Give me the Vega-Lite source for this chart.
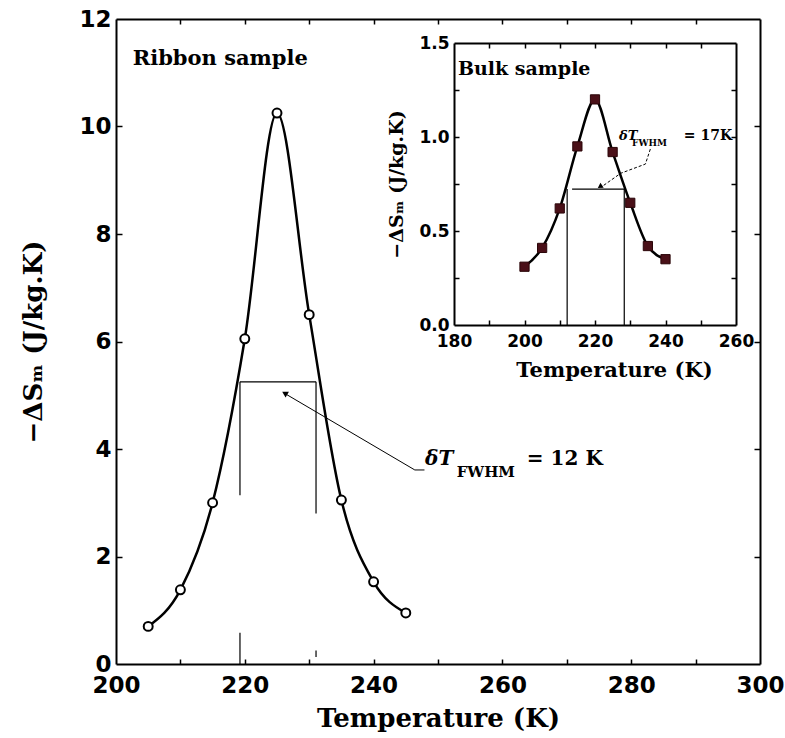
{
  "$schema": "https://vega.github.io/schema/vega-lite/v6.json",
  "width": 644,
  "height": 645,
  "autosize": {"type": "none"},
  "padding": {"left": 116, "top": 19, "right": 25, "bottom": 74},
  "background": "white",
  "config": {
    "view": {"stroke": null},
    "axis": {
      "grid": false,
      "domainColor": "black",
      "tickColor": "black",
      "labelColor": "black",
      "titleColor": "black",
      "labelFont": "DejaVu Sans",
      "labelFontWeight": "bold",
      "titleFont": "DejaVu Serif",
      "titleFontWeight": "bold",
      "labelFlush": false,
      "labelOverlap": false,
      "domainWidth": 2,
      "tickWidth": 1.5
    }
  },
  "datasets": {
    "ribbon": [
      {"T": 205, "S": 0.70}, {"T": 210, "S": 1.38}, {"T": 215, "S": 3.00},
      {"T": 220, "S": 6.05}, {"T": 225, "S": 10.25}, {"T": 230, "S": 6.50},
      {"T": 235, "S": 3.05}, {"T": 240, "S": 1.53}, {"T": 245, "S": 0.95}
    ],
    "bulk": [
      {"T": 200, "S": 0.31}, {"T": 205, "S": 0.41}, {"T": 210, "S": 0.62},
      {"T": 215, "S": 0.95}, {"T": 220, "S": 1.20}, {"T": 225, "S": 0.92},
      {"T": 230, "S": 0.65}, {"T": 235, "S": 0.42}, {"T": 240, "S": 0.35}
    ],
    "ribbonFwhm": [
      {"T": 219.25, "T2": 231.06, "S": 5.25, "S2": 5.25},
      {"T": 219.25, "T2": 219.25, "S": 5.25, "S2": 3.14},
      {"T": 231.06, "T2": 231.06, "S": 5.25, "S2": 2.8},
      {"T": 219.25, "T2": 219.25, "S": 0, "S2": 0.58},
      {"T": 231.06, "T2": 231.06, "S": 0.13, "S2": 0.25}
    ],
    "ribbonArrow": [
      {"i": 0, "T": 247.9, "S": 3.61},
      {"i": 1, "T": 246.4, "S": 3.61},
      {"i": 2, "T": 226.4, "S": 5.02}
    ],
    "ribbonHead": [{"T": 226.2, "S": 5.04}],
    "bulkFwhm": [
      {"T": 213.5, "T2": 228.3, "S": 0.723, "S2": 0.723},
      {"T": 212.1, "T2": 212.1, "S": 0.723, "S2": 0},
      {"T": 228.3, "T2": 228.3, "S": 0.723, "S2": 0}
    ],
    "bulkArrow": [
      {"i": 0, "T": 235.7, "S": 0.936},
      {"i": 1, "T": 234.3, "S": 0.856},
      {"i": 2, "T": 227.3, "S": 0.807},
      {"i": 3, "T": 221.8, "S": 0.734}
    ],
    "bulkHead": [{"T": 221.4, "S": 0.736}]
  },
  "layer": [
    {
      "resolve": {"axis": {"x": "independent", "y": "independent"}},
      "layer": [
        {
          "data": {"name": "ribbon"},
          "mark": {"type": "line", "interpolate": "monotone", "color": "black", "strokeWidth": 2.5},
          "encoding": {
            "x": {"field": "T", "type": "quantitative",
              "scale": {"domain": [200, 300], "nice": false, "zero": false},
              "axis": {"orient": "bottom", "values": [200, 220, 240, 260, 280, 300], "ticks": false,
                "labelFontSize": 23, "labelPadding": 10, "title": "Temperature (K)",
                "titleFontSize": 26, "titlePadding": 8}},
            "y": {"field": "S", "type": "quantitative",
              "scale": {"domain": [0, 12], "nice": false, "zero": false},
              "axis": {"orient": "left", "values": [0, 2, 4, 6, 8, 10, 12], "ticks": false,
                "labelFontSize": 23, "labelPadding": 5, "title": "−ΔSₘ (J/kg.K)",
                "titleFontSize": 26, "titlePadding": 32}}
          }
        },
        {
          "data": {"name": "ribbon"},
          "mark": {"type": "point", "shape": "circle", "filled": true, "fill": "white", "stroke": "black", "strokeWidth": 2, "size": 80, "opacity": 1},
          "encoding": {
            "x": {"field": "T", "type": "quantitative",
              "scale": {"domain": [200, 300], "nice": false, "zero": false},
              "axis": {"orient": "bottom", "values": [210, 220, 230, 240, 250, 260, 270, 280, 290], "labels": false,
                "domain": false, "tickSize": -5, "title": null}},
            "y": {"field": "S", "type": "quantitative",
              "scale": {"domain": [0, 12], "nice": false, "zero": false},
              "axis": {"orient": "left", "values": [2, 4, 6, 8, 10], "labels": false,
                "domain": false, "tickSize": -6, "title": null}}
          }
        },
        {
          "data": {"name": "ribbonFwhm"},
          "mark": {"type": "rule", "color": "black", "strokeWidth": 1.2},
          "encoding": {
            "x": {"field": "T", "type": "quantitative",
              "scale": {"domain": [200, 300], "nice": false, "zero": false},
              "axis": {"orient": "top", "values": [210, 220, 230, 240, 250, 260, 270, 280, 290], "labels": false,
                "tickSize": -5, "title": null}},
            "x2": {"field": "T2"},
            "y": {"field": "S", "type": "quantitative",
              "scale": {"domain": [0, 12], "nice": false, "zero": false},
              "axis": {"orient": "right", "values": [2, 4, 6, 8, 10], "labels": false,
                "tickSize": -6, "title": null}},
            "y2": {"field": "S2"}
          }
        },
        {
          "data": {"name": "ribbonArrow"},
          "mark": {"type": "line", "color": "black", "strokeWidth": 1},
          "encoding": {
            "x": {"field": "T", "type": "quantitative", "scale": {"domain": [200, 300], "nice": false, "zero": false}, "axis": null},
            "y": {"field": "S", "type": "quantitative", "scale": {"domain": [0, 12], "nice": false, "zero": false}, "axis": null},
            "order": {"field": "i", "type": "quantitative"}
          }
        },
        {
          "data": {"name": "ribbonHead"},
          "mark": {"type": "point", "shape": "triangle-up", "angle": 300, "filled": true, "color": "black", "size": 45, "opacity": 1},
          "encoding": {
            "x": {"field": "T", "type": "quantitative", "scale": {"domain": [200, 300], "nice": false, "zero": false}, "axis": null},
            "y": {"field": "S", "type": "quantitative", "scale": {"domain": [0, 12], "nice": false, "zero": false}, "axis": null}
          }
        },
        {
          "data": {"values": [{"T": 202.6, "S": 11.14, "label": "Ribbon sample"}]},
          "mark": {"type": "text", "font": "DejaVu Serif", "fontWeight": "bold", "fontSize": 21, "align": "left", "baseline": "alphabetic", "color": "black"},
          "encoding": {
            "x": {"field": "T", "type": "quantitative", "scale": {"domain": [200, 300], "nice": false, "zero": false}, "axis": null},
            "y": {"field": "S", "type": "quantitative", "scale": {"domain": [0, 12], "nice": false, "zero": false}, "axis": null},
            "text": {"field": "label"}
          }
        },
        {
          "data": {"values": [{"T": 248.0, "S": 3.70, "label": "δT"}]},
          "mark": {"type": "text", "font": "DejaVu Serif", "fontWeight": "bold", "fontStyle": "italic", "fontSize": 20, "align": "left", "baseline": "alphabetic", "color": "black"},
          "encoding": {
            "x": {"field": "T", "type": "quantitative", "scale": {"domain": [200, 300], "nice": false, "zero": false}, "axis": null},
            "y": {"field": "S", "type": "quantitative", "scale": {"domain": [0, 12], "nice": false, "zero": false}, "axis": null},
            "text": {"field": "label"}
          }
        },
        {
          "data": {"values": [{"T": 252.9, "S": 3.48, "label": "FWHM"}]},
          "mark": {"type": "text", "font": "DejaVu Serif", "fontWeight": "bold", "fontSize": 15, "align": "left", "baseline": "alphabetic", "color": "black"},
          "encoding": {
            "x": {"field": "T", "type": "quantitative", "scale": {"domain": [200, 300], "nice": false, "zero": false}, "axis": null},
            "y": {"field": "S", "type": "quantitative", "scale": {"domain": [0, 12], "nice": false, "zero": false}, "axis": null},
            "text": {"field": "label"}
          }
        },
        {
          "data": {"values": [{"T": 263.8, "S": 3.70, "label": "= 12 K"}]},
          "mark": {"type": "text", "font": "DejaVu Serif", "fontWeight": "bold", "fontSize": 20, "align": "left", "baseline": "alphabetic", "color": "black"},
          "encoding": {
            "x": {"field": "T", "type": "quantitative", "scale": {"domain": [200, 300], "nice": false, "zero": false}, "axis": null},
            "y": {"field": "S", "type": "quantitative", "scale": {"domain": [0, 12], "nice": false, "zero": false}, "axis": null},
            "text": {"field": "label"}
          }
        }
      ]
    },
    {
      "resolve": {"axis": {"x": "independent", "y": "independent"}},
      "layer": [
        {
          "data": {"name": "bulk"},
          "mark": {"type": "line", "interpolate": "monotone", "color": "black", "strokeWidth": 2.5},
          "encoding": {
            "x": {"field": "T", "type": "quantitative",
              "scale": {"domain": [180, 260], "nice": false, "zero": false, "range": [338, 620]},
              "axis": {"orient": "bottom", "offset": -339, "values": [180, 200, 220, 240, 260], "ticks": false,
                "labelFontSize": 17, "labelPadding": 8, "title": "Temperature (K)",
                "titleFontSize": 21, "titlePadding": 10, "titleX": 498}},
            "y": {"field": "S", "type": "quantitative",
              "scale": {"domain": [0, 1.5], "nice": false, "zero": false, "range": [306, 24]},
              "axis": {"orient": "left", "offset": -338, "values": [0, 0.5, 1, 1.5], "format": ".1f", "ticks": false,
                "labelFontSize": 17, "labelPadding": 5, "title": "−ΔSₘ (J/kg.K)",
                "titleFontSize": 19, "titlePadding": 12}}
          }
        },
        {
          "data": {"name": "bulk"},
          "mark": {"type": "point", "shape": "square", "filled": true, "fill": "#4a1018", "stroke": "#2a0508", "strokeWidth": 1, "size": 85, "opacity": 1},
          "encoding": {
            "x": {"field": "T", "type": "quantitative",
              "scale": {"domain": [180, 260], "nice": false, "zero": false, "range": [338, 620]},
              "axis": {"orient": "bottom", "offset": -339, "values": [190, 200, 210, 220, 230, 240, 250], "labels": false,
                "domain": false, "tickSize": -5, "title": null}},
            "y": {"field": "S", "type": "quantitative",
              "scale": {"domain": [0, 1.5], "nice": false, "zero": false, "range": [306, 24]},
              "axis": {"orient": "left", "offset": -338, "values": [0.25, 0.5, 0.75, 1, 1.25], "labels": false,
                "domain": false, "tickSize": -5, "title": null}}
          }
        },
        {
          "data": {"name": "bulkFwhm"},
          "mark": {"type": "rule", "color": "black", "strokeWidth": 1.2},
          "encoding": {
            "x": {"field": "T", "type": "quantitative",
              "scale": {"domain": [180, 260], "nice": false, "zero": false, "range": [338, 620]},
              "axis": {"orient": "top", "offset": -24, "values": [190, 200, 210, 220, 230, 240, 250], "labels": false,
                "tickSize": -5, "title": null}},
            "x2": {"field": "T2"},
            "y": {"field": "S", "type": "quantitative",
              "scale": {"domain": [0, 1.5], "nice": false, "zero": false, "range": [306, 24]},
              "axis": {"orient": "right", "offset": -24, "values": [0.25, 0.5, 0.75, 1, 1.25], "labels": false,
                "tickSize": -5, "title": null}},
            "y2": {"field": "S2"}
          }
        },
        {
          "data": {"name": "bulkArrow"},
          "mark": {"type": "line", "color": "black", "strokeWidth": 1, "strokeDash": [3, 2]},
          "encoding": {
            "x": {"field": "T", "type": "quantitative", "scale": {"domain": [180, 260], "nice": false, "zero": false, "range": [338, 620]}, "axis": null},
            "y": {"field": "S", "type": "quantitative", "scale": {"domain": [0, 1.5], "nice": false, "zero": false, "range": [306, 24]}, "axis": null},
            "order": {"field": "i", "type": "quantitative"}
          }
        },
        {
          "data": {"name": "bulkHead"},
          "mark": {"type": "point", "shape": "triangle-up", "angle": 237, "filled": true, "color": "black", "size": 35, "opacity": 1},
          "encoding": {
            "x": {"field": "T", "type": "quantitative", "scale": {"domain": [180, 260], "nice": false, "zero": false, "range": [338, 620]}, "axis": null},
            "y": {"field": "S", "type": "quantitative", "scale": {"domain": [0, 1.5], "nice": false, "zero": false, "range": [306, 24]}, "axis": null}
          }
        },
        {
          "data": {"values": [{"T": 181.1, "S": 1.33, "label": "Bulk sample"}]},
          "mark": {"type": "text", "font": "DejaVu Serif", "fontWeight": "bold", "fontSize": 19, "align": "left", "baseline": "alphabetic", "color": "black"},
          "encoding": {
            "x": {"field": "T", "type": "quantitative", "scale": {"domain": [180, 260], "nice": false, "zero": false, "range": [338, 620]}, "axis": null},
            "y": {"field": "S", "type": "quantitative", "scale": {"domain": [0, 1.5], "nice": false, "zero": false, "range": [306, 24]}, "axis": null},
            "text": {"field": "label"}
          }
        },
        {
          "data": {"values": [{"T": 226.8, "S": 0.984, "label": "δT"}]},
          "mark": {"type": "text", "font": "DejaVu Serif", "fontWeight": "bold", "fontStyle": "italic", "fontSize": 13, "align": "left", "baseline": "alphabetic", "color": "black"},
          "encoding": {
            "x": {"field": "T", "type": "quantitative", "scale": {"domain": [180, 260], "nice": false, "zero": false, "range": [338, 620]}, "axis": null},
            "y": {"field": "S", "type": "quantitative", "scale": {"domain": [0, 1.5], "nice": false, "zero": false, "range": [306, 24]}, "axis": null},
            "text": {"field": "label"}
          }
        },
        {
          "data": {"values": [{"T": 230.5, "S": 0.952, "label": "FWHM"}]},
          "mark": {"type": "text", "font": "DejaVu Serif", "fontWeight": "bold", "fontSize": 9, "align": "left", "baseline": "alphabetic", "color": "black"},
          "encoding": {
            "x": {"field": "T", "type": "quantitative", "scale": {"domain": [180, 260], "nice": false, "zero": false, "range": [338, 620]}, "axis": null},
            "y": {"field": "S", "type": "quantitative", "scale": {"domain": [0, 1.5], "nice": false, "zero": false, "range": [306, 24]}, "axis": null},
            "text": {"field": "label"}
          }
        },
        {
          "data": {"values": [{"T": 245.2, "S": 0.984, "label": "= 17K"}]},
          "mark": {"type": "text", "font": "DejaVu Serif", "fontWeight": "bold", "fontSize": 14, "align": "left", "baseline": "alphabetic", "color": "black"},
          "encoding": {
            "x": {"field": "T", "type": "quantitative", "scale": {"domain": [180, 260], "nice": false, "zero": false, "range": [338, 620]}, "axis": null},
            "y": {"field": "S", "type": "quantitative", "scale": {"domain": [0, 1.5], "nice": false, "zero": false, "range": [306, 24]}, "axis": null},
            "text": {"field": "label"}
          }
        }
      ]
    }
  ],
  "resolve": {"scale": {"x": "independent", "y": "independent"}}
}
